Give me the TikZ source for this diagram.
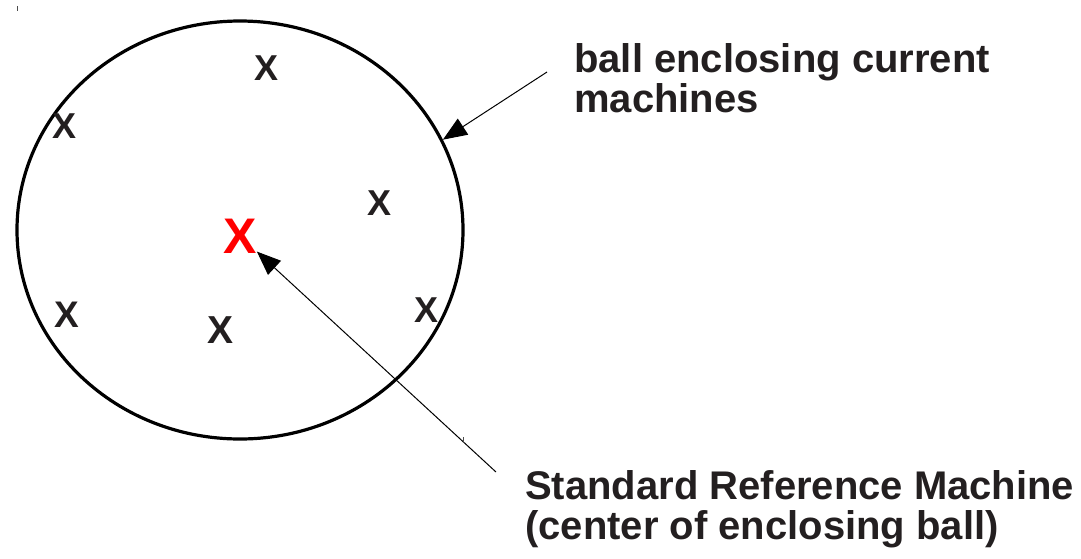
\documentclass[tikz,border=0pt]{standalone}
\usepackage{fontspec}
\setmainfont{Liberation Sans}
\usetikzlibrary{arrows.meta,shapes.geometric}
\definecolor{ink}{HTML}{231F20}
\tikzset{
  mark x/.style={font=\bfseries\fontsize{36}{36}\selectfont, text=ink, inner sep=0pt, anchor=center},
  label text/.style={font=\bfseries\fontsize{40}{40}\selectfont, text=ink, inner sep=0pt, anchor=north west, align=left},
  pointer/.style={draw=black, line width=1pt, -{Triangle[length=24pt,width=19pt]}},
}
\begin{document}
\begin{tikzpicture}[x=1pt,y=-1pt]
\useasboundingbox (0,0) rectangle (1081,558);
\node[ellipse, draw=black, line width=3.2pt, minimum width=446pt, minimum height=418pt, inner sep=0pt] (ball) at (240,230) {};
\node[mark x] (x1) at (267,68) {X};
\node[mark x] (x2) at (65,126) {X};
\node[mark x] (x3) at (380,203) {X};
\node[mark x] (x4) at (427,310) {X};
\node[mark x, font=\bfseries\fontsize{37}{37}\selectfont] (x5) at (67,315) {X};
\node[mark x, font=\bfseries\fontsize{39}{39}\selectfont] (x6) at (221,330) {X};
\node[mark x, font=\bfseries\fontsize{50}{50}\selectfont, text=red] (redx) at (240,236) {X};
\node[label text] (lab1) at (574,43) {ball enclosing current\\machines};
\node[label text] (lab2) at (525,470) {Standard Reference Machine\\(center of enclosing ball)};
\coordinate (s1) at (547,72);
\coordinate (s2) at (496,472);
\draw[pointer] (s1) -- (ball.24);
\draw[pointer] (s2) -- (redx);
\draw[line width=0.8pt, black!70] (17,6) -- (17,11);
\draw[line width=0.8pt, black!70] (463,437) -- (463,442);
\end{tikzpicture}
\end{document}
